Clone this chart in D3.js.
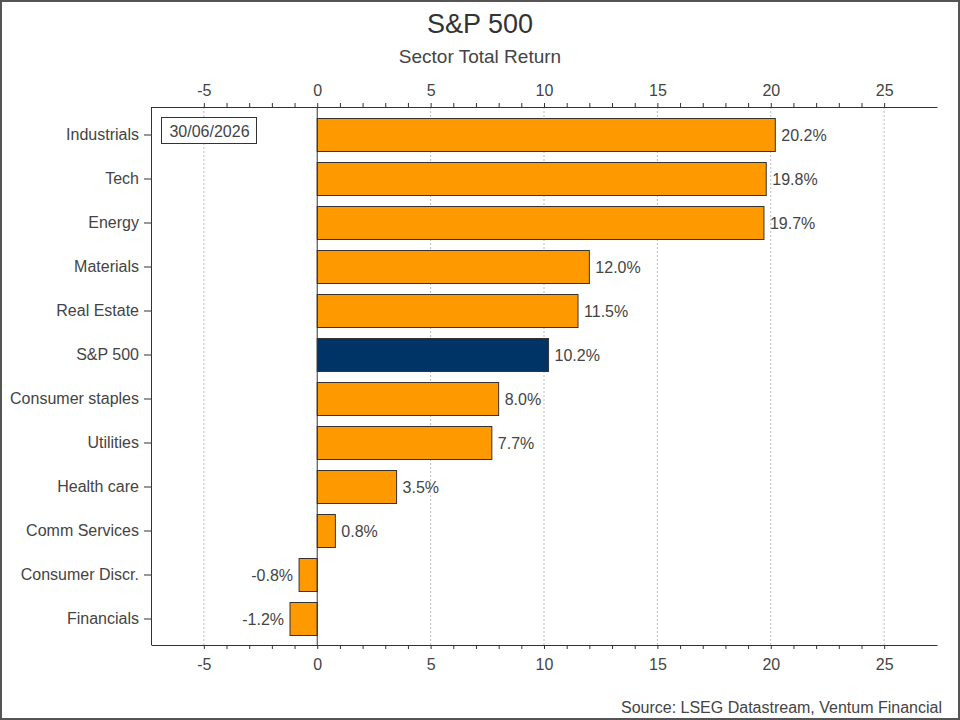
<!doctype html>
<html>
<head>
<meta charset="utf-8">
<script src="https://cdn.jsdelivr.net/npm/d3@7"></script>
<style>
  body { margin: 0; background: #fff; }
  svg { display: block; font-family: "Liberation Sans", Arial, sans-serif; }
</style>
</head>
<body>
<script>
const sectors = ["Industrials", "Tech", "Energy", "Materials", "Real Estate", "S&P 500",
  "Consumer staples", "Utilities", "Health care", "Comm Services", "Consumer Discr.", "Financials"];
const returns = [20.2, 19.8, 19.7, 12.0, 11.5, 10.2, 8.0, 7.7, 3.5, 0.8, -0.8, -1.2];
const majorTicks = [-5, 0, 5, 10, 15, 20, 25];
const minorTicks = d3.range(-5, 26);
const dateLabel = "30/06/2026";

const width = 960, height = 720;
const plotLeft = 151, plotRight = 937, plotTop = 107, plotBottom = 645;
const textColor = "#444";

const svg = d3.select("body").append("svg").attr("width", width).attr("height", height);

svg.append("rect").attr("x", 1).attr("y", 1).attr("width", width - 2).attr("height", height - 2)
    .attr("fill", "#fff").attr("stroke", "#555").attr("stroke-width", 2);

const x = d3.scaleLinear().domain([-7.33, 27.33]).range([plotLeft, plotRight]);
const y = d3.scaleBand().domain(sectors).range([113, 641]).paddingInner(0.25).paddingOuter(0.125);

// gridlines
svg.append("g").selectAll("line").data(majorTicks.filter(d => d !== 0)).join("line")
    .attr("x1", d => x(d)).attr("x2", d => x(d)).attr("y1", plotTop).attr("y2", plotBottom)
    .attr("stroke", "#bbb").attr("stroke-dasharray", "2,2");

// bars
svg.append("g").selectAll("rect").data(sectors).join("rect")
    .attr("x", (d, i) => x(Math.min(0, returns[i])))
    .attr("y", d => y(d))
    .attr("width", (d, i) => Math.abs(x(returns[i]) - x(0)))
    .attr("height", y.bandwidth())
    .attr("fill", d => d === "S&P 500" ? "#003366" : "#ff9900")
    .attr("stroke", "#333").attr("stroke-width", 1);

// zero line
svg.append("line").attr("x1", x(0)).attr("x2", x(0)).attr("y1", plotTop).attr("y2", plotBottom)
    .attr("stroke", "#333");

// value labels
svg.append("g").selectAll("text").data(sectors).join("text")
    .attr("x", (d, i) => returns[i] >= 0 ? x(returns[i]) + 6 : x(returns[i]) - 6)
    .attr("y", d => y(d) + y.bandwidth() / 2)
    .attr("dy", "0.35em")
    .attr("text-anchor", (d, i) => returns[i] >= 0 ? "start" : "end")
    .attr("font-size", 16).attr("fill", textColor)
    .text((d, i) => returns[i].toFixed(1) + "%");

// axes
function styleAxis(g) {
  g.selectAll("path, line").attr("stroke", "#333");
  g.selectAll("text").attr("font-size", 16).attr("fill", textColor);
  g.attr("font-family", null).attr("font-size", null);
}
const fmt = d => String(d);
svg.append("g").attr("transform", `translate(0,${plotTop})`)
    .call(d3.axisTop(x).tickValues(majorTicks).tickFormat(fmt).tickSize(0).tickSizeOuter(0).tickPadding(11))
    .call(styleAxis);
svg.append("g").attr("transform", `translate(0,${plotTop})`)
    .call(d3.axisTop(x).tickValues(minorTicks).tickSize(4).tickFormat("").tickSizeOuter(0))
    .call(g => g.select(".domain").remove()).call(styleAxis);
svg.append("g").attr("transform", `translate(0,${plotBottom})`)
    .call(d3.axisBottom(x).tickValues(majorTicks).tickFormat(fmt).tickSize(0).tickSizeOuter(0).tickPadding(14))
    .call(styleAxis);
svg.append("g").attr("transform", `translate(0,${plotBottom})`)
    .call(d3.axisBottom(x).tickValues(minorTicks).tickSize(4).tickFormat("").tickSizeOuter(0))
    .call(g => g.select(".domain").remove()).call(styleAxis);
svg.append("g").attr("transform", `translate(${plotLeft},0)`)
    .call(d3.axisLeft(y).tickSize(7).tickSizeOuter(0).tickPadding(5))
    .call(g => g.select(".domain").attr("d", `M0.5,${plotTop}V${plotBottom}`))
    .call(styleAxis);

// date box
const dateG = svg.append("g");
dateG.append("rect").attr("x", 161.5).attr("y", 117.5).attr("width", 95).attr("height", 26)
    .attr("fill", "#fff").attr("stroke", "#333");
dateG.append("text").attr("x", 209.5).attr("y", 136.5)
    .attr("text-anchor", "middle").attr("font-size", 16).attr("fill", textColor).text(dateLabel);

// titles
svg.append("text").attr("x", 480).attr("y", 33).attr("text-anchor", "middle")
    .attr("font-size", 27).attr("fill", "#333").text("S&P 500");
svg.append("text").attr("x", 480).attr("y", 63).attr("text-anchor", "middle")
    .attr("font-size", 19).attr("fill", "#444").text("Sector Total Return");
svg.append("text").attr("x", 942).attr("y", 713).attr("text-anchor", "end")
    .attr("font-size", 16).attr("fill", textColor).text("Source: LSEG Datastream, Ventum Financial");
</script>
</body>
</html>
